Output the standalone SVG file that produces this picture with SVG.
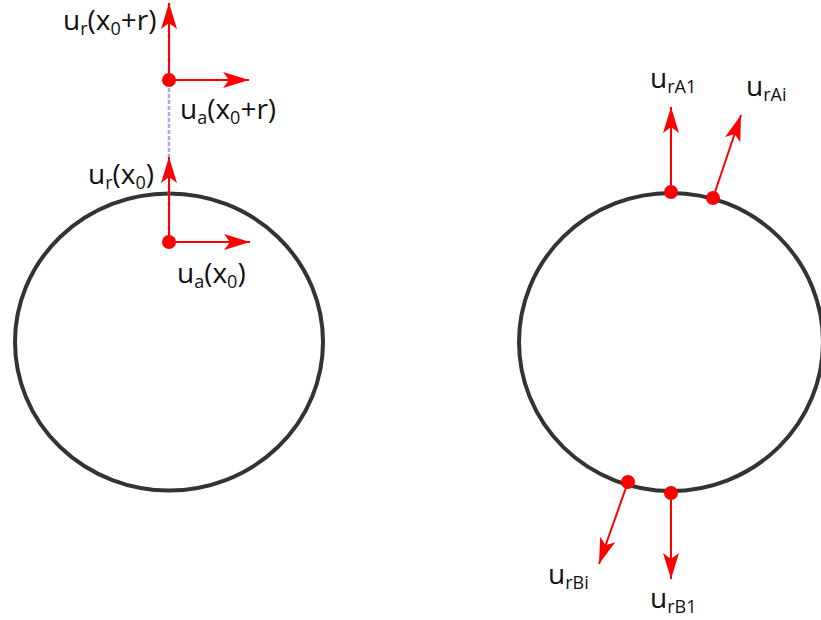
<svg xmlns="http://www.w3.org/2000/svg" width="821" height="620" viewBox="0 0 821 620">
<style>
.ring{fill:none;stroke:#333;stroke-width:4}
.dot{fill:#f00}
.arr{stroke:#f00;stroke-width:2;fill:none;marker-end:url(#ah)}
.guide{stroke:#a3aaf4;stroke-width:2.6;stroke-dasharray:4 2;fill:none}
.lbl{font-family:"Open Sans",sans-serif;font-size:28px;fill:#111}
.sub{font-size:18px}
</style>
<defs>
<marker id="ah" viewBox="-27 -9 28 18" refX="0" refY="0" markerWidth="28" markerHeight="18" markerUnits="userSpaceOnUse" orient="auto">
<path d="M0,0 L-26,-8 L-20,0 L-26,8 Z" fill="#f00"/>
</marker>
</defs>
<rect width="821" height="620" fill="#fff"/>
<g id="left-circle"><ellipse class="ring" cx="169" cy="342" rx="154" ry="148.5"/></g>
<g id="right-circle"><ellipse class="ring" cx="671" cy="342" rx="152" ry="149"/></g>
<g id="guide"><line class="guide" x1="169" y1="4" x2="169" y2="242"/></g>
<g id="connectors">
<line class="arr" x1="169" y1="80" x2="169" y2="3"/>
<line class="arr" x1="169" y1="80" x2="249" y2="80"/>
<line class="arr" x1="169" y1="242" x2="169" y2="157"/>
<line class="arr" x1="169" y1="242" x2="250" y2="242"/>
<line class="arr" x1="671" y1="192" x2="671" y2="107"/>
<line class="arr" x1="713" y1="198" x2="741" y2="115"/>
<line class="arr" x1="628" y1="482" x2="599" y2="564"/>
<line class="arr" x1="671" y1="493" x2="671" y2="579"/>
</g>
<g id="point-x0r"><circle class="dot" cx="169" cy="80" r="7"/></g>
<g id="point-x0"><circle class="dot" cx="169" cy="242" r="7"/></g>
<g id="point-A1"><circle class="dot" cx="671" cy="192" r="7"/></g>
<g id="point-Ai"><circle class="dot" cx="713" cy="198" r="7"/></g>
<g id="point-Bi"><circle class="dot" cx="628" cy="482" r="7"/></g>
<g id="point-B1"><circle class="dot" cx="671" cy="493" r="7"/></g>
<g id="labels">
<text class="lbl" x="63" y="30">u<tspan class="sub" dy="5">r</tspan><tspan dy="-5">(x</tspan><tspan class="sub" dy="5">0</tspan><tspan dy="-5">+r)</tspan></text>
<text class="lbl" x="180" y="119">u<tspan class="sub" dy="5">a</tspan><tspan dy="-5">(x</tspan><tspan class="sub" dy="5">0</tspan><tspan dy="-5">+r)</tspan></text>
<text class="lbl" x="88" y="184">u<tspan class="sub" dy="5">r</tspan><tspan dy="-5">(x</tspan><tspan class="sub" dy="5">0</tspan><tspan dy="-5">)</tspan></text>
<text class="lbl" x="177" y="283">u<tspan class="sub" dy="5">a</tspan><tspan dy="-5">(x</tspan><tspan class="sub" dy="5">0</tspan><tspan dy="-5">)</tspan></text>
<text class="lbl" x="650" y="88">u<tspan class="sub" dy="5">rA1</tspan></text>
<text class="lbl" x="746" y="96">u<tspan class="sub" dy="5">rAi</tspan></text>
<text class="lbl" x="548" y="584">u<tspan class="sub" dy="5">rBi</tspan></text>
<text class="lbl" x="650" y="608">u<tspan class="sub" dy="5">rB1</tspan></text>
</g>
</svg>
